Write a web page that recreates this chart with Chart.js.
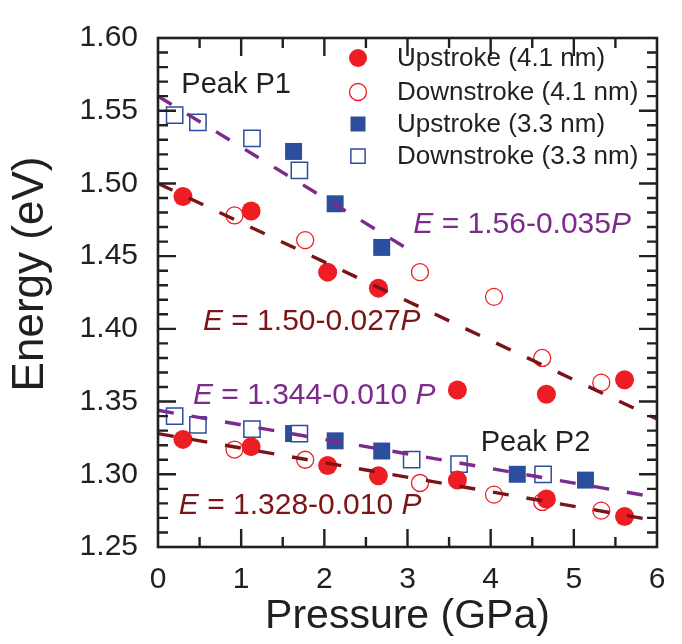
<!DOCTYPE html>
<html>
<head>
<meta charset="utf-8">
<title>Energy vs pressure</title>
<script src="https://cdn.jsdelivr.net/npm/chart.js@4/dist/chart.umd.min.js"></script>
<style>
  html, body { margin: 0; padding: 0; background: #fff; }
  #wrap { width: 682px; height: 644px; }
</style>
</head>
<body>
<div id="wrap"><canvas id="energyChart" width="682" height="644"></canvas></div>
<script>
/* global Chart */
const FONT = '"Liberation Sans", Arial, Helvetica, sans-serif';
const INK = '#231f20';
const RED = '#ee1d24';
const BLUE = '#2c4e9f';
const PURPLE = '#7c2a8c';
const DARKRED = '#7a1416';

// axis ticks
const pressureTicks = [0, 1, 2, 3, 4, 5, 6];
const energyTicks = [1.25, 1.30, 1.35, 1.40, 1.45, 1.50, 1.55, 1.60];

// upstroke, 4.1 nm dots (same pressures for both peaks)
const pressureUp41 = [0.30, 1.12, 2.04, 2.65, 3.60, 4.67, 5.61];
const energyUp41P1 = [1.491, 1.481, 1.439, 1.428, 1.358, 1.355, 1.365];
const energyUp41P2 = [1.324, 1.319, 1.306, 1.299, 1.296, 1.283, 1.271];

// downstroke, 4.1 nm dots
const pressureDown41 = [0.92, 1.77, 3.15, 4.04, 4.62, 5.33];
const energyDown41P1 = [1.478, 1.461, 1.439, 1.422, 1.380, 1.363];
const energyDown41P2 = [1.317, 1.310, 1.294, 1.286, 1.281, 1.275];

// upstroke, 3.3 nm dots
const pressureUp33P1 = [1.63, 2.13, 2.69];
const energyUp33P1 = [1.522, 1.486, 1.456];
const pressureUp33P2 = [1.63, 2.13, 2.69, 4.32, 5.14];
const energyUp33P2 = [1.328, 1.323, 1.316, 1.300, 1.296];

// downstroke, 3.3 nm dots
const pressureDown33P1 = [0.20, 0.48, 1.13, 1.70];
const energyDown33P1 = [1.547, 1.542, 1.531, 1.509];
const pressureDown33P2 = [0.20, 0.48, 1.13, 1.70, 3.05, 3.62, 4.63];
const energyDown33P2 = [1.340, 1.334, 1.331, 1.328, 1.310, 1.307, 1.300];

// linear fits E = a + b*P
const fitIntercept = [1.56, 1.50, 1.344, 1.328];
const fitSlope = [-0.035, -0.027, -0.010, -0.010];
const fitFrom = [0, 0, 0, 0];
const fitTo = [3.0, 6, 6, 6];
const fitColor = [PURPLE, DARKRED, PURPLE, DARKRED];

// fit captions: [italic E, plain middle, italic P]
const fitText = [' = 1.56-0.035', ' = 1.50-0.027', ' = 1.344-0.010 ', ' = 1.328-0.010 '];
const fitTextX = [3.07, 0.54, 0.42, 0.25];
const fitTextY = [1.466, 1.399, 1.348, 1.273];

const peakNames = ['Peak P1', 'Peak P2'];
const peakX = [0.28, 3.88];
const peakY = [1.562, 1.316];

const legendNames = ['Upstroke (4.1 nm)', 'Downstroke (4.1 nm)', 'Upstroke (3.3 nm)', 'Downstroke (3.3 nm)'];

function toPoints(xs, ys) {
  return xs.map((x, i) => ({ x, y: ys[i] }));
}

function fitLine(i) {
  const a = fitIntercept[i];
  const b = fitSlope[i];
  return [
    { x: fitFrom[i], y: a + b * fitFrom[i] },
    { x: fitTo[i], y: a + b * fitTo[i] },
  ];
}

const lineSets = fitIntercept.map((a, i) => ({
  type: 'line',
  data: fitLine(i),
  borderColor: fitColor[i],
  borderWidth: 3.4,
  borderDash: [16, 18],
  pointRadius: 0,
  fill: false,
  order: 0,
}));

const markerSets = [{
  label: legendNames[0],
  data: toPoints(pressureUp41, energyUp41P1).concat(toPoints(pressureUp41, energyUp41P2)),
  pointStyle: 'circle',
  pointRadius: 9.5,
  pointBackgroundColor: RED,
  pointBorderColor: RED,
  pointBorderWidth: 0,
  order: 1,
}, {
  label: legendNames[1],
  data: toPoints(pressureDown41, energyDown41P1).concat(toPoints(pressureDown41, energyDown41P2)),
  pointStyle: 'circle',
  pointRadius: 8.5,
  pointBackgroundColor: '#fff',
  pointBorderColor: RED,
  pointBorderWidth: 1.3,
  order: 2,
}, {
  label: legendNames[2],
  data: toPoints(pressureUp33P1, energyUp33P1).concat(toPoints(pressureUp33P2, energyUp33P2)),
  pointStyle: 'rect',
  pointRadius: 12,
  pointBackgroundColor: BLUE,
  pointBorderColor: BLUE,
  pointBorderWidth: 0,
  order: 4,
}, {
  label: legendNames[3],
  data: toPoints(pressureDown33P1, energyDown33P1).concat(toPoints(pressureDown33P2, energyDown33P2)),
  pointStyle: 'rect',
  pointRadius: 11.5,
  pointBackgroundColor: '#fff',
  pointBorderColor: BLUE,
  pointBorderWidth: 1.5,
  order: 3,
}];

function marker(ctx, set, r, x, y) {
  ctx.save();
  ctx.fillStyle = set.pointBackgroundColor;
  ctx.strokeStyle = set.pointBorderColor;
  ctx.lineWidth = set.pointBorderWidth;
  ctx.beginPath();
  if (set.pointStyle === 'circle') {
    ctx.arc(x, y, r, 0, Math.PI * 2);
  } else {
    ctx.rect(x - r, y - r, 2 * r, 2 * r);
  }
  ctx.fill();
  if (set.pointBorderWidth > 0) ctx.stroke();
  ctx.restore();
}

// frame with inward ticks on all four sides, captions, legend
const framePlugin = {
  id: 'frame',
  afterDraw(chart) {
    const { ctx, chartArea: { left, right, top, bottom }, scales: { x, y } } = chart;
    ctx.save();
    ctx.strokeStyle = INK;
    ctx.lineWidth = 2.6;
    ctx.lineCap = 'butt';
    ctx.strokeRect(left, top, right - left, bottom - top);

    ctx.lineWidth = 2.4;
    ctx.beginPath();
    for (let k = 1; k < 12; k++) {
      const px = x.getPixelForValue(k * 0.5);
      const len = k % 2 === 0 ? 18 : 10;
      ctx.moveTo(px, bottom);
      ctx.lineTo(px, bottom - len);
      ctx.moveTo(px, top);
      ctx.lineTo(px, top + len);
    }
    for (let k = 1; k < 35; k++) {
      const py = y.getPixelForValue(1.25 + k * 0.01);
      const len = k % 5 === 0 ? 18 : 10;
      ctx.moveTo(left, py);
      ctx.lineTo(left + len, py);
      ctx.moveTo(right, py);
      ctx.lineTo(right - len, py);
    }
    ctx.stroke();

    // y axis title
    ctx.fillStyle = INK;
    ctx.font = `44px ${FONT}`;
    ctx.textAlign = 'center';
    ctx.textBaseline = 'middle';
    ctx.save();
    ctx.translate(31, 274);
    ctx.rotate(-Math.PI / 2);
    ctx.fillText('Energy (eV)', 0, 0);
    ctx.restore();

    // peak names
    ctx.textAlign = 'left';
    ctx.textBaseline = 'alphabetic';
    ctx.font = `29px ${FONT}`;
    peakNames.forEach((name, i) => {
      ctx.fillText(name, x.getPixelForValue(peakX[i]), y.getPixelForValue(peakY[i]));
    });

    // fit equations
    fitText.forEach((mid, i) => {
      let px = x.getPixelForValue(fitTextX[i]);
      const py = y.getPixelForValue(fitTextY[i]);
      ctx.fillStyle = fitColor[i];
      ctx.font = `italic 30px ${FONT}`;
      ctx.fillText('E', px, py);
      px += ctx.measureText('E').width;
      ctx.font = `30px ${FONT}`;
      ctx.fillText(mid, px, py);
      px += ctx.measureText(mid).width;
      ctx.font = `italic 30px ${FONT}`;
      ctx.fillText('P', px, py);
    });

    // legend
    const legendY = [58, 92, 124, 156];
    const legendR = [9, 8.5, 10, 9.5];
    ctx.font = `26px ${FONT}`;
    ctx.textBaseline = 'middle';
    markerSets.forEach((set, i) => {
      marker(ctx, set, legendR[i] * (set.pointStyle === 'rect' ? 0.75 : 1), 358, legendY[i]);
      ctx.fillStyle = INK;
      ctx.fillText(set.label, 397, legendY[i] + 1);
    });
    ctx.restore();
  },
};

new Chart(document.getElementById('energyChart'), {
  type: 'scatter',
  data: { datasets: lineSets.concat(markerSets) },
  options: {
    responsive: false,
    animation: false,
    devicePixelRatio: 1,
    layout: { padding: { top: 20, right: 25, left: 0, bottom: 0 } },
    plugins: {
      legend: { display: false },
      tooltip: { enabled: false },
    },
    scales: {
      x: {
        type: 'linear',
        min: 0,
        max: 6,
        afterBuildTicks: (scale) => { scale.ticks = pressureTicks.map((v) => ({ value: v })); },
        afterFit: (scale) => { scale.height = 97; },
        grid: { display: false, drawTicks: false },
        border: { display: false },
        ticks: { padding: 15, color: INK, font: { family: FONT, size: 30 }, maxRotation: 0 },
        title: {
          display: true,
          text: 'Pressure (GPa)',
          color: INK,
          font: { family: FONT, size: 41 },
          padding: { top: 0, bottom: 3 },
        },
      },
      y: {
        type: 'linear',
        min: 1.25,
        max: 1.60,
        afterBuildTicks: (scale) => { scale.ticks = energyTicks.map((v) => ({ value: v })); },
        afterFit: (scale) => { scale.width = 158; },
        grid: { display: false, drawTicks: false },
        border: { display: false },
        ticks: {
          padding: 20,
          color: INK,
          font: { family: FONT, size: 30 },
          callback: (v) => v.toFixed(2),
        },
      },
    },
  },
  plugins: [framePlugin],
});
</script>
</body>
</html>
